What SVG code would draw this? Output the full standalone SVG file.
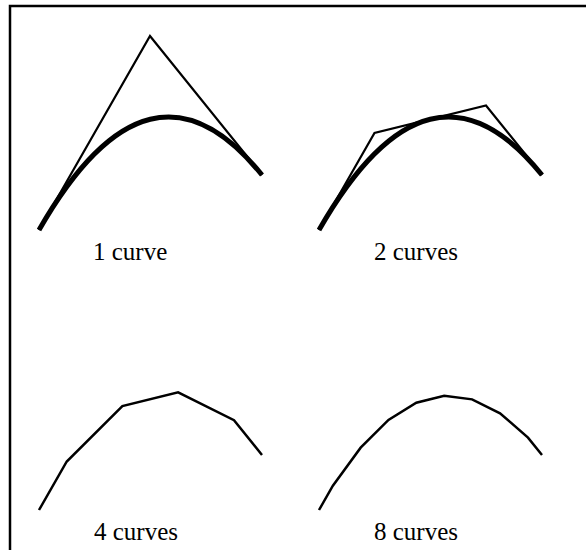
<svg xmlns="http://www.w3.org/2000/svg" width="586" height="550" viewBox="0 0 586 550">
<style>
.frame{fill:none;stroke:#000;stroke-width:2.5}
.thin{fill:none;stroke:#000;stroke-width:2.2;stroke-linejoin:miter}
.thick{fill:none;stroke:#000;stroke-width:5}
.poly{fill:none;stroke:#000;stroke-width:2.5;stroke-linejoin:miter}
text{font-family:'Liberation Serif','Times New Roman',serif;font-size:25px;fill:#000}
</style>
<rect class="frame" x="10" y="6" width="600" height="600"/>
<g id="panel-1">
<polyline class="thin" points="39,230 150,36 262,175"/>
<path class="thick" d="M39,230 Q150,36 262,175"/>
<text x="93" y="260">1 curve</text>
</g>
<g id="panel-2" transform="translate(280,0)">
<polyline class="thin" points="39,230 94.5,133 206,105.5 262,175"/>
<path class="thick" d="M39,230 Q150,36 262,175"/>
<text x="94" y="260">2 curves</text>
</g>
<g id="panel-4" transform="translate(0,280)">
<polyline class="poly" points="39,230 66.75,181.5 122.375,126.125 178.125,112.375 234,140.25 262,175"/>
<text x="94" y="260">4 curves</text>
</g>
<g id="panel-8" transform="translate(280,280)">
<polyline class="poly" points="39,230 52.875,205.75 80.656,167.66 108.47,139.97 136.31,122.69 164.19,115.81 192.09,119.34 220.03,133.28 248,157.625 262,175"/>
<text x="94" y="260">8 curves</text>
</g>
</svg>
